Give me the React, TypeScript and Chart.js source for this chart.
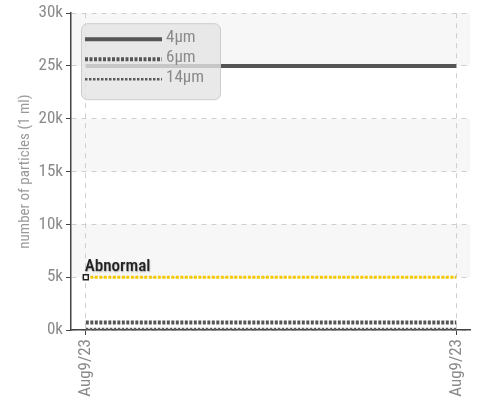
import React, { useEffect, useRef } from 'react';
import { Chart, registerables } from 'chart.js';

Chart.register(...registerables);

const dates = ['Aug9/23', 'Aug9/23'];
const seriesLabels = ['4μm', '6μm', '14μm'];
const particles4 = [25000, 25000];
const particles6 = [700, 700];
const particles14 = [100, 100];
const abnormalLabel = 'Abnormal';
const abnormalLevel = [5000, 5000];
const yMax = 30000;
const yStep = 5000;
const yTitle = 'number of particles (1 ml)';

const FONT = "'Roboto Condensed', 'Roboto', sans-serif";

const bandsPlugin = {
  id: 'bands',
  beforeDraw(chart: any) {
    const { ctx, chartArea, scales } = chart;
    const y = scales.y;
    ctx.save();
    ctx.fillStyle = '#f7f7f7';
    for (let v = 0, i = 0; v < yMax; v += yStep, i++) {
      if (i % 2 === 1) {
        const top = y.getPixelForValue(v + yStep);
        const bot = y.getPixelForValue(v);
        ctx.fillRect(chartArea.left, top, chartArea.right - chartArea.left, bot - top);
      }
    }
    ctx.restore();
  },
};

const abnormalLabelPlugin = {
  id: 'abnormalLabel',
  afterDatasetsDraw(chart: any) {
    const idx = chart.data.datasets.findIndex((d: any) => d.label === abnormalLabel);
    if (idx < 0) return;
    const pt = chart.getDatasetMeta(idx).data[0];
    if (!pt) return;
    const ctx = chart.ctx;
    ctx.save();
    ctx.font = `500 17px ${FONT}`;
    ctx.textAlign = 'left';
    ctx.textBaseline = 'alphabetic';
    ctx.shadowColor = 'rgba(0,0,0,0.35)';
    ctx.shadowBlur = 1.5;
    ctx.shadowOffsetX = 0.5;
    ctx.shadowOffsetY = 0.5;
    ctx.fillStyle = '#222';
    ctx.fillText(abnormalLabel, pt.x - 1, pt.y - 6);
    ctx.restore();
  },
};

const legendPlugin = {
  id: 'customLegend',
  afterDraw(chart: any) {
    const { ctx, chartArea } = chart;
    const items = chart.data.datasets.filter((d: any) => seriesLabels.includes(d.label));
    const x0 = chartArea.left + 10;
    const y0 = chartArea.top + 10;
    const w = 139;
    const h = 76;
    ctx.save();
    ctx.beginPath();
    (ctx as any).roundRect(x0 + 0.5, y0 + 0.5, w, h, 6);
    ctx.fillStyle = 'rgba(228,228,228,0.8)';
    ctx.fill();
    ctx.strokeStyle = 'rgba(200,200,200,0.9)';
    ctx.lineWidth = 1;
    ctx.stroke();
    items.forEach((d: any, i: number) => {
      const ly = y0 + 16 + i * 20;
      ctx.beginPath();
      ctx.setLineDash(d.borderDash || []);
      ctx.lineWidth = d.borderWidth;
      ctx.strokeStyle = d.borderColor;
      ctx.moveTo(x0 + 4, ly);
      ctx.lineTo(x0 + 81, ly);
      ctx.stroke();
      ctx.setLineDash([]);
      ctx.font = `17px ${FONT}`;
      ctx.fillStyle = '#8a8a8a';
      ctx.textAlign = 'left';
      ctx.textBaseline = 'alphabetic';
      ctx.fillText(d.label, x0 + 85, ly + 3);
    });
    ctx.restore();
  },
};

export default function App() {
  const ref = useRef<HTMLCanvasElement>(null);

  useEffect(() => {
    document.body.style.margin = '0';
    const toPts = (arr: number[]) => arr.map((v, i) => ({ x: i, y: v }));
    const chart = new Chart(ref.current!, {
      type: 'line',
      data: {
        datasets: [
          {
            label: seriesLabels[0],
            data: toPts(particles4),
            borderColor: '#555555',
            borderWidth: 4,
            pointRadius: 0,
          },
          {
            label: seriesLabels[1],
            data: toPts(particles6),
            borderColor: '#555555',
            borderWidth: 4,
            borderDash: [3, 1.5],
            pointRadius: 0,
          },
          {
            label: seriesLabels[2],
            data: toPts(particles14),
            borderColor: '#5a5a5a',
            borderWidth: 2.5,
            borderDash: [2.5, 1.5],
            pointRadius: 0,
          },
          {
            label: abnormalLabel,
            data: toPts(abnormalLevel),
            borderColor: '#f5c800',
            borderWidth: 3,
            borderDash: [3, 1.5],
            pointStyle: 'rect',
            pointRadius: (c: any) => (c.dataIndex === 0 ? 3.5 : 0),
            pointBorderColor: '#222',
            pointBackgroundColor: '#fff',
            pointBorderWidth: 1.5,
          },
        ],
      },
      options: {
        animation: false,
        responsive: true,
        maintainAspectRatio: false,
        layout: { padding: { left: 0, right: 9, top: 12, bottom: 0 } },
        plugins: {
          legend: { display: false },
          tooltip: { enabled: false },
        },
        scales: {
          x: {
            type: 'linear',
            min: -0.04,
            max: 1.038,
            afterBuildTicks: (scale: any) => {
              scale.ticks = dates.map((_, i) => ({ value: i }));
            },
            afterFit: (scale: any) => {
              scale.height = 73;
            },
            ticks: {
              autoSkip: false,
              minRotation: 90,
              maxRotation: 90,
              padding: 4,
              color: '#8a8a8a',
              font: { family: FONT, size: 17 },
              callback: (v: any) => dates[Math.round(Number(v))] ?? '',
            },
            grid: {
              color: '#cfcfcf',
              tickBorderDash: [],
              tickColor: '#444',
              tickLength: 5,
              drawTicks: true,
            },
            border: { color: '#444', width: 1.5, dash: [5, 5] },
          },
          y: {
            min: 0,
            max: yMax,
            afterFit: (scale: any) => {
              scale.width = 71;
            },
            ticks: {
              stepSize: yStep,
              padding: 3,
              color: '#8a8a8a',
              font: { family: FONT, size: 17 },
              callback: (v: any) => `${Number(v) / 1000}k`,
            },
            grid: {
              color: '#cfcfcf',
              tickBorderDash: [],
              tickColor: '#444',
              tickLength: 5,
            },
            border: { color: '#444', width: 1.5, dash: [5, 5] },
            title: {
              display: true,
              text: yTitle,
              color: '#999',
              font: { family: FONT, size: 15 },
              padding: { top: 16, bottom: 4 },
            },
          },
        },
      } as any,
      plugins: [bandsPlugin, abnormalLabelPlugin, legendPlugin],
    });
    return () => chart.destroy();
  }, []);

  return (
    <div style={{ width: 481, height: 403, position: 'relative' }}>
      <canvas ref={ref} />
    </div>
  );
}
